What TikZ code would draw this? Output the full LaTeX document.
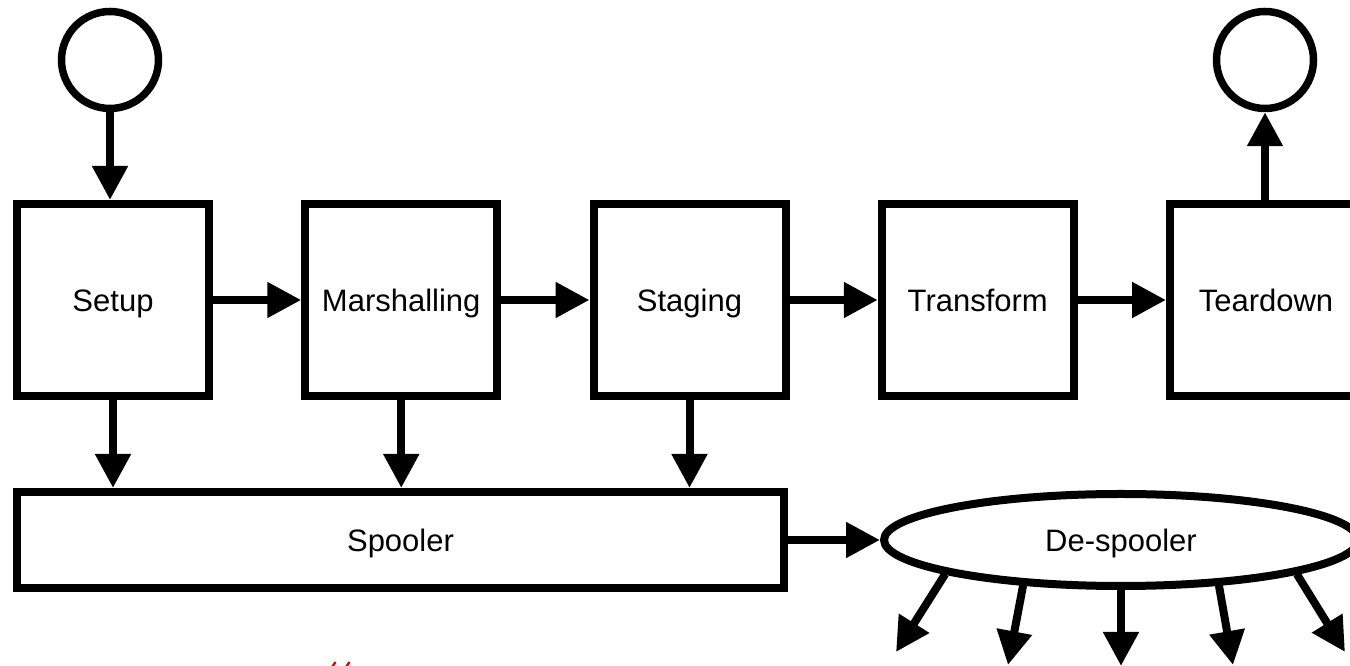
\documentclass[tikz,border=0pt]{standalone}
\usepackage{fontspec}
\setmainfont{Liberation Sans}
\usetikzlibrary{arrows.meta,shapes.geometric}
\definecolor{markred}{RGB}{215,0,0}
\begin{document}
\begin{tikzpicture}[x=1pt,y=1pt,
  stage/.style={draw, line width=8pt, minimum width=192pt, minimum height=192pt,
                inner sep=0pt, text height=22.5pt, text depth=0pt,
                font=\fontsize{31}{37}\selectfont},
  term/.style={draw, circle, line width=7.5pt, minimum size=97pt, inner sep=0pt},
  flow/.style={line width=8pt, -{Triangle[length=34pt,width=34pt]}},
]
\useasboundingbox (0,0) rectangle (1350,666);
\clip (0,0) rectangle (1350,666);

% terminals
\node[term] (start) at (110,606) {};
\node[term] (stop)  at (1265,606) {};

% pipeline stages
\node[stage] (setup) at (113,366)    {Setup};
\node[stage] (marsh) at (401.25,366) {Marshalling};
\node[stage] (stag)  at (689.5,366)  {Staging};
\node[stage] (trans) at (977.75,366) {Transform};
\node[stage] (tear)  at (1266,366)   {Teardown};

% spooling
\node[stage, minimum width=767pt, minimum height=96pt] (spool) at (400.5,126) {Spooler};
\node[draw, ellipse, line width=8pt, minimum width=474pt, minimum height=92pt,
      inner sep=0pt, text height=22.5pt, text depth=0pt,
      font=\fontsize{31}{37}\selectfont] (desp) at (1121,126) {De-spooler};

% outputs of the de-spooler
\coordinate (o1) at (896,14);
\coordinate (o2) at (1008,1);
\coordinate (o3) at (1121,0);
\coordinate (o4) at (1233,1);
\coordinate (o5) at (1345,14);

% main flow
\draw[flow] (start) -- (start |- setup.north);
\draw[flow] (setup) -- (marsh);
\draw[flow] (marsh) -- (stag);
\draw[flow] (stag) -- (trans);
\draw[flow] (trans) -- (tear);
\draw[flow] (stop |- tear.north) -- (stop);

% into the spooler
\draw[flow] (setup) -- (setup |- spool.north);
\draw[flow] (marsh) -- (marsh |- spool.north);
\draw[flow] (stag) -- (stag |- spool.north);
\draw[flow] (spool) -- (desp);

% fan-out
\draw[flow] (desp.-169) -- (o1);
\draw[flow] (desp.-155) -- (o2);
\draw[flow] (desp.-90)  -- (o3);
\draw[flow] (desp.-25)  -- (o4);
\draw[flow] (desp.-11)  -- (o5);

% red marks at the lower edge
\draw[markred, line width=2.2pt] (332,-1) -- (335.5,4);
\draw[markred, line width=2.2pt] (346,-1) -- (349.5,4);
\end{tikzpicture}
\end{document}
